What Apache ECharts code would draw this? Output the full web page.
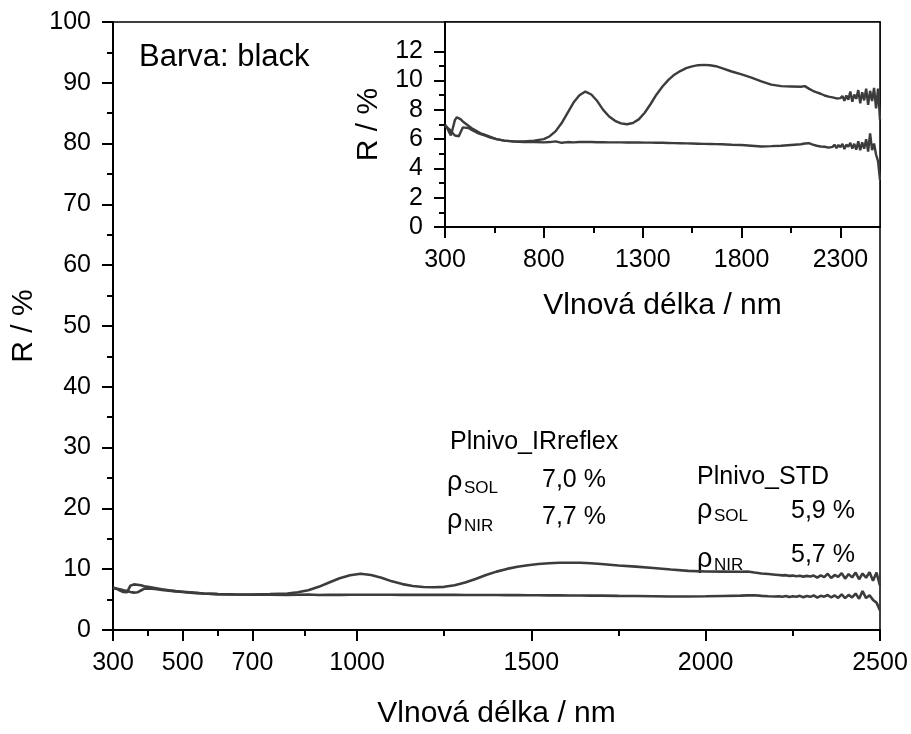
<!DOCTYPE html>
<html>
<head>
<meta charset="utf-8">
<script src="https://cdn.jsdelivr.net/npm/echarts@6/dist/echarts.min.js"></script>
<style>
html,body{margin:0;padding:0;background:#fff;}
#chart{width:911px;height:734px;}
</style>
</head>
<body>
<div id="chart"></div>
<script>
// Wavelength grid (nm) shared by both spectra
const wavelength = [300,310,320,330,340,350,360,370,380,390,400,420,440,460,480,500,530,560,600,650,700,750,800,830,860,890,920,950,980,1010,1040,1070,1100,1130,1160,1190,1220,1250,1280,1310,1340,1370,1400,1430,1460,1490,1520,1550,1580,1610,1640,1670,1700,1750,1800,1850,1900,1950,2000,2050,2100,2120,2140,2160,2180,2200,
2210,2220,2230,2240,2250,2260,2270,2280,2290,2300,2310,2320,2330,2340,2350,2360,2370,2380,2390,2400,2410,2420,2430,2440,2450,2460,2470,2480,2490,2500];

// Plnivo_IRreflex reflectance (%)
const irreflex = [7.0,6.8,6.5,6.25,6.2,7.3,7.5,7.45,7.35,7.2,7.1,6.9,6.7,6.55,6.4,6.3,6.15,6.0,5.9,5.85,5.85,5.9,6.0,6.2,6.55,7.1,7.8,8.5,9.0,9.25,9.05,8.6,8.0,7.55,7.25,7.08,7.02,7.1,7.35,7.8,8.4,9.05,9.6,10.05,10.4,10.65,10.85,10.97,11.05,11.07,11.05,10.98,10.85,10.62,10.42,10.2,9.95,9.72,9.62,9.6,9.58,9.62,9.45,9.3,9.2,9.1,
9.05,8.98,9.02,8.9,8.95,8.85,8.93,8.78,8.9,8.8,8.95,8.62,8.98,8.7,9.25,8.55,9.05,8.75,9.35,8.45,9.2,8.65,9.45,8.35,9.3,8.6,9.5,8.1,9.45,7.3];

// Plnivo_STD reflectance (%)
const standard = [6.9,6.8,6.7,6.55,6.4,6.25,6.15,6.2,6.5,6.8,6.85,6.75,6.6,6.45,6.35,6.25,6.1,6.0,5.9,5.83,5.8,5.8,5.78,5.8,5.85,5.75,5.8,5.78,5.8,5.8,5.8,5.79,5.79,5.78,5.78,5.78,5.77,5.77,5.77,5.76,5.76,5.75,5.75,5.74,5.73,5.72,5.71,5.7,5.69,5.68,5.67,5.66,5.65,5.62,5.6,5.55,5.5,5.52,5.55,5.6,5.65,5.7,5.72,5.62,5.55,5.5,
5.55,5.48,5.58,5.42,5.55,5.47,5.62,5.38,5.6,5.45,5.68,5.33,5.62,5.48,5.75,5.35,5.68,5.28,5.85,5.25,5.78,5.35,6.0,5.15,6.4,5.25,5.7,4.95,4.5,3.2];

// Tick definitions
const mainXLabels = [300,500,700,1000,1500,2000,2500];
const mainXMinor = [400,600,850,1250,1750,2250];
const insetXLabels = [300,800,1300,1800,2300];
const insetXMinor = [550,1050,1550,2050];
const insetYLabels = [0,2,4,6,8,10,12];
const insetYMinor = [1,3,5,7,9,11];

const FONT = 'Arial, "Liberation Sans", sans-serif';
const LINE = '#3c3c3c';
const TICKFONT = 25;
const TITLEFONT = 30;

const pairs = (ys) => wavelength.map((x, i) => [x, ys[i]]);
const plain = (v) => String(v);

function majorX(grid, labels, name, gap) {
  return {
    type: 'value', gridIndex: grid, position: 'bottom', min: 300, max: 2500,
    axisLine: {show: true, onZero: false, lineStyle: {color: '#000', width: 2}},
    axisTick: {show: true, customValues: labels, length: 11, lineStyle: {color: '#000', width: 2}},
    axisLabel: {show: true, customValues: labels, formatter: plain, fontSize: TICKFONT, margin: 21, color: '#000', fontFamily: FONT},
    splitLine: {show: false},
    name: name, nameLocation: 'middle', nameGap: gap,
    nameTextStyle: {fontSize: TITLEFONT, color: '#000', fontFamily: FONT}
  };
}
function minorX(grid, minors) {
  return {
    type: 'value', gridIndex: grid, position: 'bottom', min: 300, max: 2500,
    axisLine: {show: false},
    axisTick: {show: true, customValues: minors, length: 6, lineStyle: {color: '#000', width: 2}},
    axisLabel: {show: false},
    splitLine: {show: false}
  };
}

const option = {
  animation: false,
  backgroundColor: '#fff',
  textStyle: {fontFamily: FONT},
  grid: [
    {left: 113, top: 22, right: 31, bottom: 94, show: true, borderColor: '#000', borderWidth: 1.5, backgroundColor: 'transparent'},
    {left: 445, top: 22, right: 31, bottom: 507, show: true, borderColor: '#000', borderWidth: 1.5, backgroundColor: '#fff'}
  ],
  xAxis: [
    majorX(0, mainXLabels, 'Vlnová délka / nm', 69),
    minorX(0, mainXMinor),
    majorX(1, insetXLabels, 'Vlnová délka / nm', 64),
    minorX(1, insetXMinor)
  ],
  yAxis: [
    {
      type: 'value', gridIndex: 0, position: 'left', min: 0, max: 100, interval: 10,
      axisLine: {show: true, onZero: false, lineStyle: {color: '#000', width: 2}},
      axisTick: {show: true, length: 11, lineStyle: {color: '#000', width: 2}},
      minorTick: {show: true, splitNumber: 2, length: 6, lineStyle: {color: '#000', width: 2}},
      axisLabel: {formatter: plain, fontSize: TICKFONT, margin: 22, color: '#000', fontFamily: FONT},
      splitLine: {show: false},
      name: 'R / %', nameLocation: 'middle', nameGap: 71,
      nameTextStyle: {fontSize: TITLEFONT, color: '#000', fontFamily: FONT}
    },
    {
      type: 'value', gridIndex: 1, position: 'left', min: 0, max: 14, interval: 2,
      axisLine: {show: true, onZero: false, lineStyle: {color: '#000', width: 2}},
      axisTick: {show: true, customValues: insetYLabels, length: 11, lineStyle: {color: '#000', width: 2}},
      axisLabel: {customValues: insetYLabels, formatter: plain, fontSize: TICKFONT, margin: 22, color: '#000', fontFamily: FONT},
      splitLine: {show: false},
      name: 'R / %', nameLocation: 'middle', nameGap: 61,
      nameTextStyle: {fontSize: TITLEFONT, color: '#000', fontFamily: FONT}
    },
    {
      type: 'value', gridIndex: 1, position: 'left', offset: 0, min: 0, max: 14,
      axisLine: {show: false},
      axisTick: {show: true, customValues: insetYMinor, length: 6, lineStyle: {color: '#000', width: 2}},
      axisLabel: {show: false},
      splitLine: {show: false}
    }
  ],
  series: [
    {name: 'Plnivo_IRreflex', type: 'line', xAxisIndex: 0, yAxisIndex: 0, data: pairs(irreflex), showSymbol: false, lineStyle: {color: LINE, width: 2.6}, z: 3},
    {name: 'Plnivo_STD', type: 'line', xAxisIndex: 0, yAxisIndex: 0, data: pairs(standard), showSymbol: false, lineStyle: {color: LINE, width: 2.6}, z: 3},
    {name: 'Plnivo_IRreflex inset', type: 'line', xAxisIndex: 2, yAxisIndex: 1, data: pairs(irreflex), showSymbol: false, lineStyle: {color: LINE, width: 2.4}, z: 3},
    {name: 'Plnivo_STD inset', type: 'line', xAxisIndex: 2, yAxisIndex: 1, data: pairs(standard), showSymbol: false, lineStyle: {color: LINE, width: 2.4}, z: 3}
  ],
  graphic: [
    {type: 'text', left: 139, top: 42, style: {text: 'Barva: black', fontSize: 31, fill: '#000', fontFamily: FONT}},
    {type: 'text', left: 450, top: 430, style: {text: 'Plnivo_IRreflex', fontSize: 25, fill: '#000', fontFamily: FONT}},
    {type: 'text', left: 447, top: 469, style: {text: 'ρ', fontSize: 27, fill: '#000', fontFamily: FONT}},
    {type: 'text', left: 464, top: 480, style: {text: 'SOL', fontSize: 17, fill: '#000', fontFamily: FONT}},
    {type: 'text', left: 542, top: 468, style: {text: '7,0 %', fontSize: 25, fill: '#000', fontFamily: FONT}},
    {type: 'text', left: 447, top: 507, style: {text: 'ρ', fontSize: 27, fill: '#000', fontFamily: FONT}},
    {type: 'text', left: 464, top: 518, style: {text: 'NIR', fontSize: 17, fill: '#000', fontFamily: FONT}},
    {type: 'text', left: 542, top: 505, style: {text: '7,7 %', fontSize: 25, fill: '#000', fontFamily: FONT}},
    {type: 'text', left: 697, top: 465, style: {text: 'Plnivo_STD', fontSize: 25, fill: '#000', fontFamily: FONT}},
    {type: 'text', left: 697, top: 497, style: {text: 'ρ', fontSize: 27, fill: '#000', fontFamily: FONT}},
    {type: 'text', left: 714, top: 508, style: {text: 'SOL', fontSize: 17, fill: '#000', fontFamily: FONT}},
    {type: 'text', left: 791, top: 499, style: {text: '5,9 %', fontSize: 25, fill: '#000', fontFamily: FONT}},
    {type: 'text', left: 697, top: 546, style: {text: 'ρ', fontSize: 27, fill: '#000', fontFamily: FONT}},
    {type: 'text', left: 714, top: 557, style: {text: 'NIR', fontSize: 17, fill: '#000', fontFamily: FONT}},
    {type: 'text', left: 791, top: 543, style: {text: '5,7 %', fontSize: 25, fill: '#000', fontFamily: FONT}}
  ]
};

const chart = echarts.init(document.getElementById('chart'), null, {renderer: 'canvas'});
chart.setOption(option);
</script>
</body>
</html>
